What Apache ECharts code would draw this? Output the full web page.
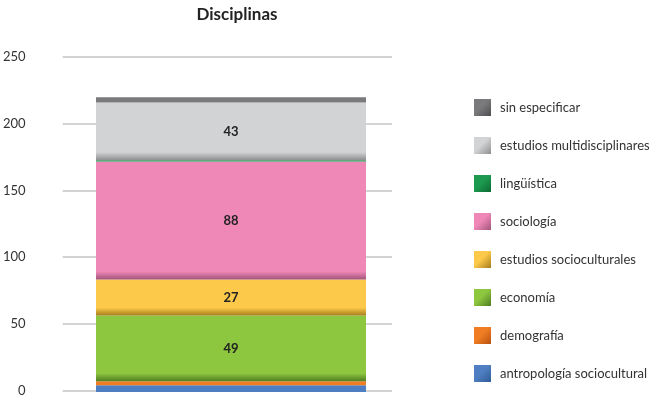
<!DOCTYPE html>
<html>
<head>
<meta charset="utf-8">
<script src="https://cdn.jsdelivr.net/npm/echarts@6/dist/echarts.min.js"></script>
<style>
  html, body { margin: 0; padding: 0; background: #fff; }
  #chart { width: 650px; height: 397px; }
</style>
</head>
<body>
<div id="chart"></div>
<script>
// datos del gráfico
var categories = ['Disciplinas'];
var seriesNames = ['antropología sociocultural', 'demografía', 'economía', 'estudios socioculturales',
                   'sociología', 'lingüística', 'estudios multidisciplinares', 'sin especificar'];
var seriesValues = [5, 3, 49, 27, 88, 1, 43, 4];
var yTicks = [0, 50, 100, 150, 200, 250];

// colores (claro, oscuro)
var palette = [
    ['#4f7fc2', '#2f5a96'],
    ['#f07d24', '#b6520f'],
    ['#8dc63f', '#4f7d22'],
    ['#fdc94a', '#a57d1c'],
    ['#f088b7', '#a2557a'],
    ['#1d9a50', '#0d6a33'],
    ['#d2d3d5', '#8d8e90'],
    ['#7a7a7c', '#4e4e50']
];

var chart = echarts.init(document.getElementById('chart'));
var font = 'Lato, "Open Sans", sans-serif';
var pxPerUnit = 335 / 250;

function fill(i, v) {
    var h = v * pxPerUnit;
    if (h < 12) {
        return palette[i][0];
    }
    var s = 1 - 8 / h;
    return new echarts.graphic.LinearGradient(0, 0, 0, 1, [
        { offset: 0, color: palette[i][0] },
        { offset: s, color: palette[i][0] },
        { offset: 1, color: palette[i][1] }
    ]);
}

// iconos de la leyenda con sombreado diagonal
var legendData = seriesNames.map(function(name, i) {
    return {
        name: name,
        itemStyle: {
            color: new echarts.graphic.LinearGradient(0, 0, 1, 1, [
                { offset: 0, color: palette[i][0] },
                { offset: 0.45, color: palette[i][0] },
                { offset: 1, color: palette[i][1] }
            ])
        }
    };
}).reverse();

var series = seriesNames.map(function(name, i) {
    return {
        name: name,
        type: 'bar',
        stack: 'total',
        xAxisIndex: 1,
        yAxisIndex: 1,
        barWidth: 270,
        data: [seriesValues[i]],
        itemStyle: {
            color: fill(i, seriesValues[i])
        },
        label: {
            show: seriesValues[i] >= 10,
            position: 'inside',
            color: '#222',
            fontWeight: 'bold',
            fontSize: 13,
            fontFamily: font
        }
    };
});

var option = {
    animation: false,
    title: {
        text: 'Disciplinas',
        left: 232,
        textAlign: 'center',
        top: 1,
        textStyle: { fontSize: 17, fontWeight: 'bold', color: '#222', fontFamily: font }
    },
    legend: {
        orient: 'vertical',
        left: 469,
        top: 94,
        itemWidth: 17,
        itemHeight: 17,
        itemGap: 21,
        data: legendData,
        icon: 'rect',
        textStyle: { fontSize: 13, color: '#333', fontFamily: font, padding: [0, 0, 0, 4] }
    },
    grid: [
        { left: 60, right: 258, top: 57, bottom: 5 },
        { left: 70, right: 258, top: 57, bottom: 5 }
    ],
    xAxis: [
        {
            type: 'category',
            gridIndex: 0,
            data: categories,
            axisLine: { show: false },
            axisTick: { show: false },
            axisLabel: { show: false }
        },
        {
            type: 'category',
            gridIndex: 1,
            data: categories,
            axisLine: { show: false },
            axisTick: { show: false },
            axisLabel: { show: false }
        }
    ],
    yAxis: [
        {
            type: 'value',
            gridIndex: 0,
            min: yTicks[0],
            max: yTicks[yTicks.length - 1],
            interval: 50,
            axisLine: { show: false },
            axisTick: { show: false },
            axisLabel: { margin: 37, color: '#333', fontSize: 13, fontFamily: font },
            splitLine: { lineStyle: { color: '#c4c4c4', width: 1.5 } }
        },
        {
            type: 'value',
            gridIndex: 1,
            min: yTicks[0],
            max: yTicks[yTicks.length - 1],
            interval: 50,
            show: false,
            splitLine: { show: false }
        }
    ],
    series: series
};

chart.setOption(option);
</script>
</body>
</html>
